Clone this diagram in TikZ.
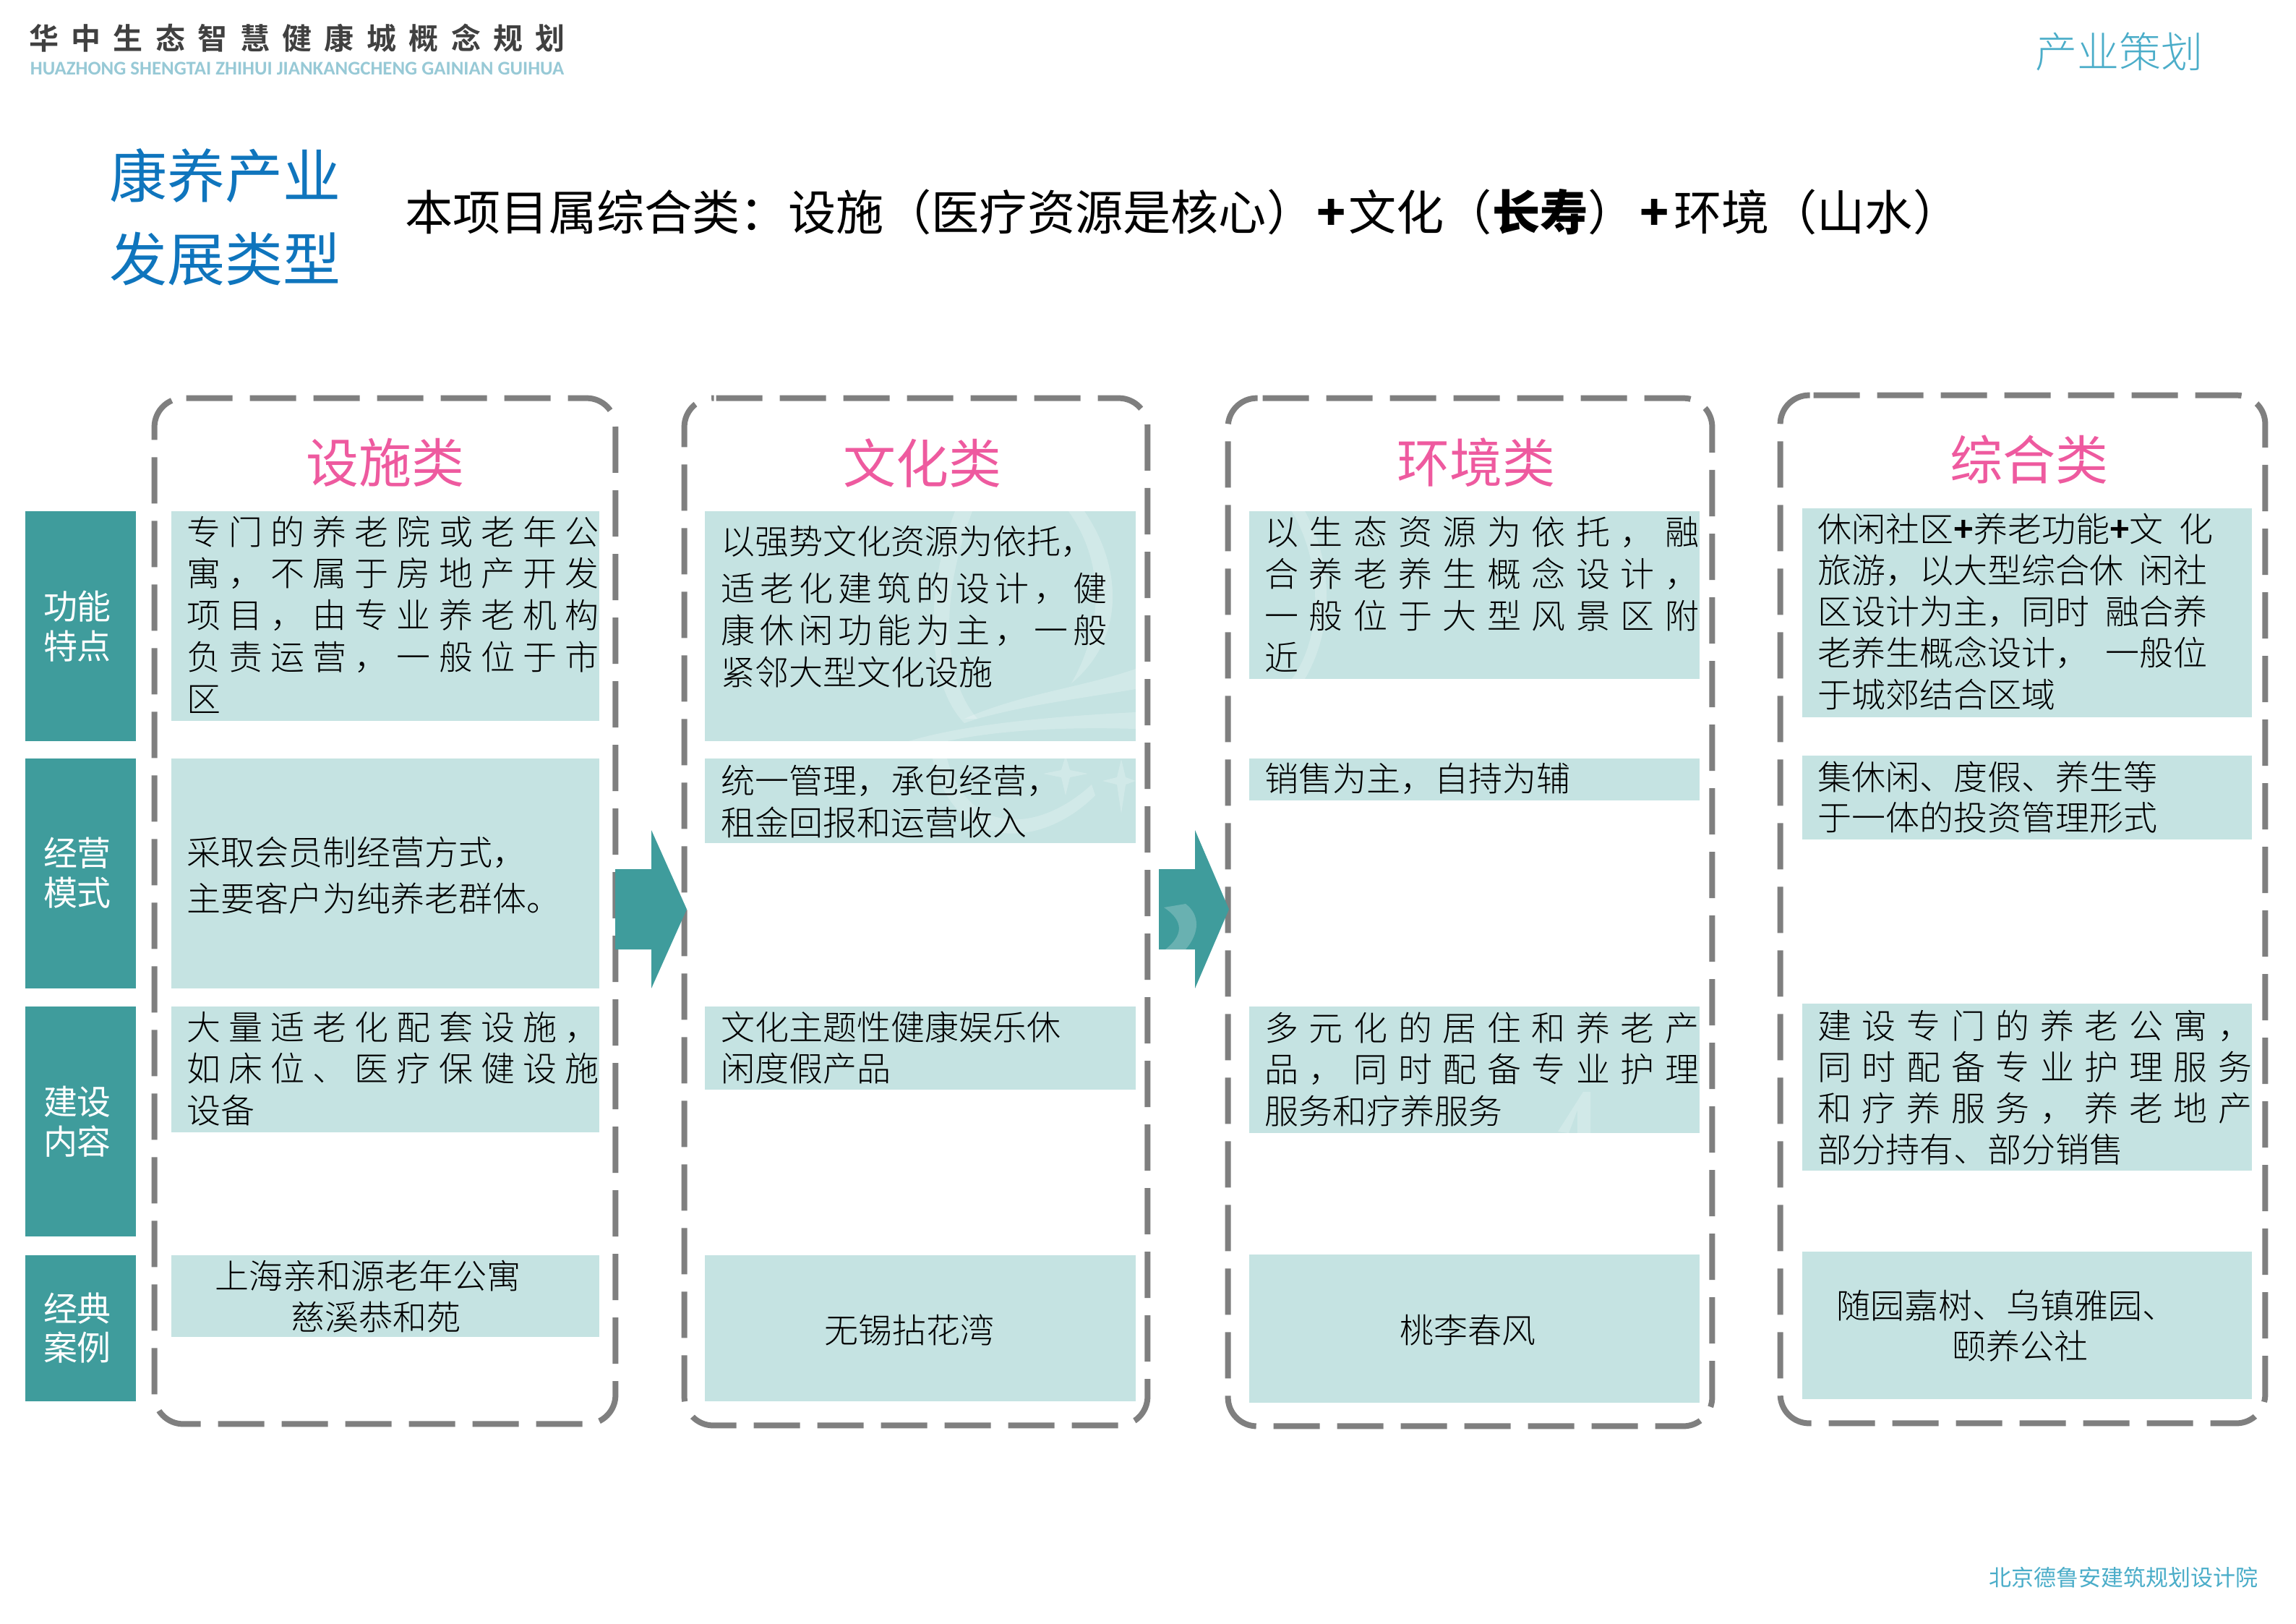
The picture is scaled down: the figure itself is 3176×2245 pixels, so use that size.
\documentclass[tikz,border=0pt]{standalone}
\usepackage{fontspec}
\usetikzlibrary{fit}
\newfontfamily\cjk{Noto Sans CJK SC}[UprightFont=* Light,BoldFont=* Bold]
\newfontfamily\cjkreg{Noto Sans CJK SC}
\newfontfamily\latn{Carlito}
\setmainfont{Noto Sans CJK SC}
\definecolor{teal1}{HTML}{3F9C9C}
\definecolor{cell}{HTML}{C5E3E2}
\definecolor{pinkh}{HTML}{EE5A9F}
\definecolor{blueh}{HTML}{0F75BD}
\definecolor{grayf}{HTML}{7F7F7F}
\definecolor{dark}{HTML}{404040}
\definecolor{paleb}{HTML}{97C9D6}
\definecolor{cyanb}{HTML}{4BADC9}
\newcommand{\pxfont}[1]{\fontsize{\dimexpr#1pt/2\relax}{\dimexpr#1pt*6/10\relax}\selectfont}
\def\Jloop#1#2\Jend{#1\ifx\relax#2\relax\else\hfil\Jloop#2\Jend\fi}
\newcommand{\J}[1]{\hbox to \dimexpr\curw pt/2\relax{\Jloop#1\Jend}}
\def\curw{600}
\tikzset{
 x=0.5pt,y=-0.5pt,
 cellbox/.style={fill=cell,draw=none,inner sep=0pt},
 labelbox/.style={fill=teal1,draw=none,inner sep=0pt},
 frameslot/.style={draw=none,inner sep=0pt},
 frameline/.style={draw=grayf,line width=4pt,rounded corners=20pt,dash pattern=on 32pt off 12pt},
 celltext/.style={anchor=base west,inner sep=0pt,text=black,font=\cjk\pxfont{47}},
 cellmid/.style={anchor=base,inner sep=0pt,text=black,font=\cjk\pxfont{47}},
 labeltext/.style={anchor=base,inner sep=0pt,text=white,font=\cjkreg\pxfont{47}},
 headtext/.style={anchor=center,inner sep=0pt,text=pinkh,font=\cjkreg\pxfont{73}},
 titletext/.style={anchor=center,inner sep=0pt,text=blueh,font=\cjkreg\pxfont{80}},
 blockarrow/.style={fill=teal1,draw=none},
 wmark/.style={fill=white,draw=none,opacity=0.22},
}
\newcommand{\cbox}[5]{\node[cellbox,fit={(#2,#3)(#4,#5)}] (#1) {};}
\newcommand{\lbox}[5]{\node[labelbox,fit={(#2,#3)(#4,#5)}] (#1) {};}
% \tl{name}{x}{first y}{pitch}{width}{lines}
\newcommand{\tl}[6]{\def\curw{#5}\foreach \l [count=\i from 0] in {#6}{\pgfmathsetmacro\yy{#3+18+\i*#4}\node[celltext] (#1-\i) at (#2,\yy) {\l};}}
% \fr{name}{x0}{y0}{x1}{y1}{start offset in pt}
\newcommand{\fr}[6]{\node[frameslot,fit={(#2,#3)(#4,#5)}] (#1) {};
 \draw[frameline] ([xshift=#6]#1.north west) -- (#1.north east) -- (#1.south east) -- (#1.south west) -- (#1.north west) -- ([xshift=20.5pt]#1.north west);}
% \blockarr{x of tail}{x of head base}{x of tip}
\newcommand{\blockarr}[3]{\fill[blockarrow] (#1,1202) -- (#2,1202) -- (#2,1148) -- (#3,1257.5) -- (#2,1367) -- (#2,1313) -- (#1,1313) -- cycle;}
\begin{document}
\begin{tikzpicture}
\useasboundingbox (0,0) rectangle (3176,2245);
\fill[white] (0,0) rectangle (3176,2245);
% page header
\node[anchor=center,inner sep=0pt,text=dark,font=\cjk\bfseries\pxfont{41}] (hdr) at (411,53) {\def\curw{742}\J{华中生态智慧健康城概念规划}};
\node[anchor=center,inner sep=0pt,text=paleb,font=\latn\bfseries\pxfont{26.8}] (hdrsub) at (411,95) {HUAZHONG SHENGTAI ZHIHUI JIANKANGCHENG GAINIAN GUIHUA};
\node[anchor=center,inner sep=0pt,text=cyanb,font=\cjk\pxfont{58}] (topr) at (2931,72) {产业策划};
\node[anchor=center,inner sep=0pt,text=cyanb,font=\cjkreg\pxfont{31}] (foot) at (2937,2182) {北京德鲁安建筑规划设计院};
% title
\node[titletext] (t1) at (311,243) {康养产业};
\node[titletext] (t2) at (311,358) {发展类型};
\node[anchor=base west,inner sep=0pt,text=black,font=\cjkreg\pxfont{66.2}] (sub) at (560,318) {本项目属综合类：设施（医疗资源是核心）\hspace{1.5pt}\textbf{+}\hspace{2pt}文化（\textbf{长寿}）\hspace{3pt}\textbf{+}\hspace{3pt}环境（山水）};
% row labels
\lbox{L1}{35}{707}{188}{1025}
\lbox{L2}{35}{1049}{188}{1367}
\lbox{L3}{35}{1392}{188}{1710}
\lbox{L4}{35}{1736}{188}{1938}
\node[labeltext] (L1a) at (107,856) {功能};
\node[labeltext] (L1b) at (107,911) {特点};
\node[labeltext] (L2a) at (107,1197) {经营};
\node[labeltext] (L2b) at (107,1252) {模式};
\node[labeltext] (L3a) at (107,1541) {建设};
\node[labeltext] (L3b) at (107,1596) {内容};
\node[labeltext] (L4a) at (107,1827) {经典};
\node[labeltext] (L4b) at (107,1881) {案例};
% frames and block arrows
\fr{F1}{214}{551}{851}{1969}{22pt}
\fr{F2}{947}{551}{1587}{1971}{22pt}
\fr{F3}{1699}{551}{2368}{1972}{24pt}
\fr{F4}{2463}{547}{3133}{1968}{23pt}
\blockarr{851}{901}{950}
\blockarr{1603}{1653}{1700}
% heads
\node[headtext] (H1) at (533,640) {设施类};
\node[headtext] (H2) at (1276,640) {文化类};
\node[headtext] (H3) at (2042,640) {环境类};
\node[headtext] (H4) at (2807,636) {综合类};
% cells
\cbox{A1}{237}{707}{829}{997}
\cbox{A2}{237}{1049}{829}{1367}
\cbox{A3}{237}{1392}{829}{1566}
\cbox{A4}{237}{1736}{829}{1849}
\cbox{B1}{975}{707}{1571}{1025}
\cbox{B2}{975}{1049}{1571}{1166}
\cbox{B3}{975}{1392}{1571}{1507}
\cbox{B4}{975}{1736}{1571}{1938}
\cbox{C1}{1728}{707}{2351}{939}
\cbox{C2}{1728}{1049}{2351}{1107}
\cbox{C3}{1728}{1392}{2351}{1567}
\cbox{C4}{1728}{1735}{2351}{1940}
\cbox{D1}{2493}{703}{3115}{992}
\cbox{D2}{2493}{1045}{3115}{1161}
\cbox{D3}{2493}{1388}{3115}{1619}
\cbox{D4}{2493}{1731}{3115}{1935}
% faint watermark
\fill[wmark] (1321,707) .. controls (1275,830) and (1285,950) .. (1334,1000) -- (1352,994) .. controls (1305,940) and (1298,830) .. (1345,707) -- cycle;
\fill[wmark] (1500,707) .. controls (1550,780) and (1560,880) .. (1482,945) .. controls (1525,870) and (1530,780) .. (1478,707) -- cycle;
\fill[wmark] (1334,994) .. controls (1410,960) and (1500,950) .. (1571,925) -- (1571,953) .. controls (1500,965) and (1420,975) .. (1352,994) -- cycle;
\fill[wmark] (1257,1025) .. controls (1340,1000) and (1470,990) .. (1571,985) -- (1571,1008) .. controls (1470,1005) and (1380,1010) .. (1310,1025) -- cycle;
\fill[wmark] (1187,1049) .. controls (1250,1025) and (1290,1020) .. (1300,1049) -- cycle;
\fill[wmark] (1310,1049) .. controls (1340,1160) and (1440,1150) .. (1510,1085) -- (1515,1100) .. controls (1440,1175) and (1320,1180) .. (1290,1049) -- cycle;
\fill[wmark] (1474,1045) -- (1480,1065) -- (1505,1070) -- (1480,1075) -- (1474,1100) -- (1468,1075) -- (1443,1070) -- (1468,1065) -- cycle;
\fill[wmark] (1551,1050) -- (1557,1075) -- (1571,1080) -- (1557,1085) -- (1551,1125) -- (1545,1085) -- (1525,1080) -- (1545,1075) -- cycle;
\fill[wmark] (1787,707) .. controls (1830,780) and (1830,880) .. (1787,939) -- (1805,939) .. controls (1845,870) and (1845,780) .. (1805,707) -- cycle;
\fill[wmark] (1610,1255) -- (1640,1250) .. controls (1660,1265) and (1660,1290) .. (1640,1313) -- (1612,1313) .. controls (1635,1295) and (1640,1275) .. (1610,1255) -- cycle;
\fill[wmark] (2155,1565) -- (2190,1510) -- (2200,1510) -- (2200,1567) -- (2182,1567) -- (2182,1535) -- (2170,1567) -- cycle;
% column 1 text
\tl{ta1}{258}{735}{57.8}{570}{\J{专门的养老院或老年公},\J{寓，不属于房地产开发},\J{项目，由专业养老机构},\J{负责运营，一般位于市},区}
\tl{ta2}{258}{1178}{64}{570}{采取会员制经营方式，,主要客户为纯养老群体。}
\tl{ta3}{258}{1420}{57.5}{570}{\J{大量适老化配套设施，},\J{如床位、医疗保健设施},设备}
\node[cellmid] (ta4a) at (509,1782) {上海亲和源老年公寓};
\node[cellmid] (ta4b) at (520,1839) {慈溪恭和苑};
% column 2 text
\node[celltext] (tb1z) at (997,766) {以强势文化资源为依托，};
\tl{tb1}{997}{813}{58}{534}{\J{适老化建筑的设计，健},\J{康休闲功能为主，一般},紧邻大型文化设施}
\tl{tb2}{997}{1079}{58}{534}{统一管理，承包经营，,租金回报和运营收入}
\tl{tb3}{997}{1420}{57}{534}{文化主题性健康娱乐休,闲度假产品}
\node[cellmid] (tb4) at (1258,1857) {无锡拈花湾};
% column 3 text
\tl{tc1}{1749}{735}{58}{601}{\J{以生态资源为依托，融},\J{合养老养生概念设计，},\J{一般位于大型风景区附},近}
\node[celltext] (tc2) at (1749,1094) {销售为主，自持为辅};
\tl{tc3}{1749}{1421}{57.5}{601}{\J{多元化的居住和养老产},\J{品，同时配备专业护理},服务和疗养服务}
\node[cellmid] (tc4) at (2030,1857) {桃李春风};
% column 4 text
\tl{td1}{2514}{731}{57.3}{561}{休闲社区\textbf{+}养老功能\textbf{+}文\hspace{11pt}化,旅游，以大型综合休\hspace{11pt}闲社,区设计为主，同时\hspace{11pt}融合养,老养生概念设计，\hspace{11pt}一般位,于城郊结合区域}
\tl{td2}{2514}{1074}{56}{601}{集休闲、度假、养生等,于一体的投资管理形式}
\tl{td3}{2514}{1418}{57}{601}{\J{建设专门的养老公寓，},\J{同时配备专业护理服务},\J{和疗养服务，养老地产},部分持有、部分销售}
\node[celltext] (td4a) at (2540,1823) {随园嘉树、乌镇雅园、};
\node[cellmid] (td4b) at (2794,1879) {颐养公社};
\end{tikzpicture}
\end{document}
